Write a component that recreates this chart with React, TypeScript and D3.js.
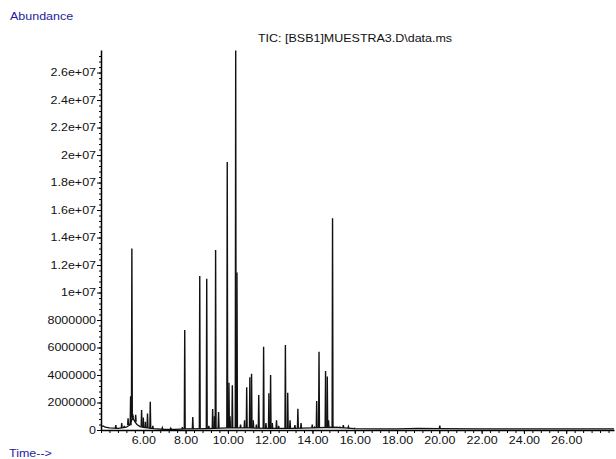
import React, { useRef, useEffect } from "react";
import * as d3 from "d3";

// Baseline of the TIC trace (time in min, abundance in millions)
const baseTimes = [4.0, 4.1, 4.2, 4.4, 4.8, 5.0, 5.2, 5.35, 5.5, 5.6, 5.7, 5.85, 6.0, 6.5, 7.0, 7.5, 8.0, 9.0, 10.0, 11.0, 12.0, 13.0, 14.0, 15.0, 15.5, 16.0, 17.0, 18.0, 19.0, 20.0, 22.0, 24.0, 26.0, 28.26];
const baseValues = [0.25, 0.3, 0.2, 0.15, 0.12, 0.15, 0.2, 0.35, 0.9, 0.6, 0.4, 0.25, 0.2, 0.1, 0.05, 0.05, 0.08, 0.1, 0.15, 0.15, 0.12, 0.12, 0.15, 0.2, 0.15, 0.1, 0.08, 0.08, 0.12, 0.1, 0.08, 0.08, 0.08, 0.08];

// Peak apexes (time in min, abundance in millions)
const peakTimes = [
    4.7, 4.98, 5.1, 5.28, 5.4, 5.46, 5.52, 5.64, 5.92, 6.0, 6.1, 6.2, 6.33, 6.45, 6.9, 7.3, 7.85, 7.96,
    8.34, 8.67, 9.0, 9.1, 9.28, 9.36, 9.42, 9.56, 9.97, 10.05, 10.1, 10.21, 10.37, 10.43, 10.6, 10.79,
    10.89, 11.04, 11.12, 11.2, 11.35, 11.46, 11.69, 11.8, 11.94, 12.02, 12.1, 12.3, 12.4, 12.72, 12.83,
    12.94, 13.17, 13.31, 13.46, 13.99, 14.1, 14.2, 14.31, 14.62, 14.7, 14.76, 14.95, 15.17, 15.3, 15.46,
    15.7, 16.0, 20.02,
];
const peakHeights = [
    0.35, 0.5, 0.3, 0.85, 2.45, 13.2, 1.0, 1.1, 1.45, 0.9, 0.6, 1.2, 2.06, 0.3, 0.15, 0.12, 0.2, 7.27,
    0.95, 11.2, 11.0, 0.3, 1.53, 1.0, 13.1, 1.3, 19.5, 3.44, 1.0, 3.25, 27.6, 11.45, 0.4, 0.7,
    3.1, 3.83, 4.1, 0.7, 0.4, 2.55, 6.06, 0.5, 2.67, 4.0, 0.5, 0.7, 0.3, 6.18, 2.7,
    0.7, 0.35, 1.55, 0.5, 0.4, 0.2, 2.1, 5.7, 4.3, 3.9, 0.7, 15.4, 0.2, 0.2, 0.35,
    0.25, 0.12, 0.32,
];

const yTickValues = [0, 2e6, 4e6, 6e6, 8e6, 1e7, 1.2e7, 1.4e7, 1.6e7, 1.8e7, 2e7, 2.2e7, 2.4e7, 2.6e7];
const xTickValues = [6, 8, 10, 12, 14, 16, 18, 20, 22, 24, 26];

const titleText = "TIC: [BSB1]MUESTRA3.D\\data.ms";
const yLabel = "Abundance";
const xLabel = "Time-->";

export default function App() {
    const svgRef = useRef<SVGSVGElement>(null);

    useEffect(() => {
        if (!svgRef.current) return;
        const svg = d3.select(svgRef.current);
        svg.selectAll("*").remove();

        const font = "'Liberation Sans', Arial, sans-serif";
        const stretch = "scale(1.25,1)";
        const plot = { left: 101, right: 614, top: 50, bottom: 430 };

        const x = d3.scaleLinear().domain([4.0, 28.26]).range([plot.left, plot.right]);
        const y = d3.scaleLinear().domain([0, 27.64e6]).range([plot.bottom, plot.top]);

        const line = d3.line<[number, number]>()
            .x(d => x(d[0]))
            .y(d => y(d[1] * 1e6));

        // Baseline
        svg.append("path")
            .datum(baseTimes.map((t, i) => [t, baseValues[i]] as [number, number]))
            .attr("fill", "none")
            .attr("stroke", "#111")
            .attr("stroke-width", 1.3)
            .attr("d", line);

        // Peaks as narrow spikes sitting on the nearest baseline level
        const hw = 0.02;
        peakTimes.forEach((t, i) => {
            const foot = baseValues[d3.minIndex(baseTimes, b => Math.abs(b - t))];
            svg.append("path")
                .datum([[t - hw, foot], [t, peakHeights[i]], [t + hw, foot]] as [number, number][])
                .attr("fill", "none")
                .attr("stroke", "#111")
                .attr("stroke-width", 1.4)
                .attr("d", line);
        });

        // Y axis minor ticks
        svg.append("g")
            .attr("transform", `translate(${plot.left},0)`)
            .call(d3.axisLeft(y).tickValues(d3.range(0, 27.6e6, 4e5)).tickSize(2).tickFormat(() => ""))
            .call(g => g.select(".domain").remove())
            .call(g => g.selectAll(".tick line").attr("stroke", "#000"));

        // Y axis
        svg.append("g")
            .attr("transform", `translate(${plot.left},0)`)
            .call(d3.axisLeft(y)
                .tickValues(yTickValues)
                .tickSize(4)
                .tickSizeOuter(0)
                .tickPadding(0)
                .tickFormat(d => {
                    const v = +d;
                    return v < 1e7 ? String(v) : v.toExponential().replace("e+7", "e+07");
                }))
            .call(g => g.select(".domain").attr("stroke", "#000").attr("stroke-width", 1.5))
            .call(g => g.selectAll(".tick line").attr("stroke", "#000"))
            .call(g => g.selectAll(".tick text")
                .attr("fill", "#111")
                .attr("font-family", font)
                .attr("font-size", 10)
                .attr("transform", stretch));

        // X axis minor ticks
        svg.append("g")
            .attr("transform", `translate(0,${plot.bottom})`)
            .call(d3.axisBottom(x).tickValues(d3.range(4.0, 28.3, 0.4)).tickSize(3).tickFormat(() => ""))
            .call(g => g.select(".domain").remove())
            .call(g => g.selectAll(".tick line").attr("stroke", "#000"));

        // X axis
        svg.append("g")
            .attr("transform", `translate(0,${plot.bottom})`)
            .call(d3.axisBottom(x)
                .tickValues(xTickValues)
                .tickSize(4)
                .tickSizeOuter(0)
                .tickPadding(3)
                .tickFormat(d => (+d).toFixed(2)))
            .call(g => g.select(".domain").attr("stroke", "#000").attr("stroke-width", 1.5))
            .call(g => g.selectAll(".tick line").attr("stroke", "#000"))
            .call(g => g.selectAll(".tick text")
                .attr("fill", "#111")
                .attr("font-family", font)
                .attr("font-size", 10)
                .attr("transform", stretch));

        // Labels
        const label = (tx: number, ty: number, text: string, color: string) => {
            svg.append("g")
                .attr("transform", `translate(${tx},${ty})`)
                .append("text")
                .attr("transform", stretch)
                .attr("font-family", font)
                .attr("font-size", 10)
                .attr("fill", color)
                .text(text);
        };
        label(10, 20, yLabel, "#1e1e9e");
        label(9, 457, xLabel, "#1e1e9e");
        label(258, 42, titleText, "#111");
    }, []);

    return (
        <div style={{ position: "fixed", left: 0, top: 0 }}>
            <svg ref={svgRef} width={616} height={459} style={{ display: "block", background: "#fff" }} />
        </div>
    );
}
